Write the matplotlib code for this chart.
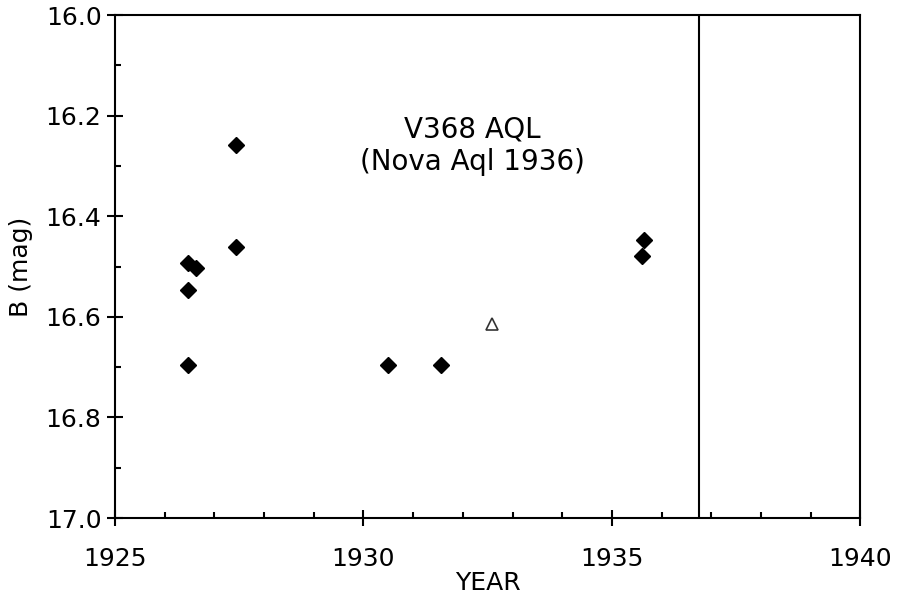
import matplotlib
matplotlib.use('Agg')
import matplotlib.pyplot as plt
from matplotlib.ticker import MultipleLocator

# Photographic B magnitudes (filled diamonds)
years = [1926.47, 1926.63, 1926.47, 1926.47, 1927.44, 1927.44,
         1930.50, 1931.56, 1935.65, 1935.61]
bmag = [16.493, 16.503, 16.547, 16.696, 16.258, 16.461,
        16.696, 16.696, 16.447, 16.479]

# Single open-triangle point
tri_year = [1932.59]
tri_mag = [16.614]

# Outburst date marker
nova_year = 1936.75

plt.rcParams['font.family'] = 'DejaVu Sans'

fig, ax = plt.subplots(figsize=(8.99, 6.01), dpi=100)
fig.subplots_adjust(left=0.128, right=0.957, top=0.975, bottom=0.138)

ax.plot(years, bmag, linestyle='none', marker='D', markersize=8.5,
        color='black')
ax.plot(tri_year, tri_mag, linestyle='none', marker='^', markersize=9,
        markerfacecolor='white', markeredgecolor='#333333', markeredgewidth=1.2)
ax.axvline(nova_year, color='black', linewidth=1.5)

ax.set_xlim(1925, 1940)
ax.set_ylim(17.0, 16.0)

ax.xaxis.set_major_locator(MultipleLocator(5))
ax.xaxis.set_minor_locator(MultipleLocator(1))
ax.yaxis.set_major_locator(MultipleLocator(0.2))
ax.yaxis.set_minor_locator(MultipleLocator(0.1))
ax.yaxis.set_major_formatter(plt.FormatStrFormatter('%.1f'))

ax.tick_params(which='major', direction='inout', length=11.5, width=1.5,
               labelsize=18, top=False, right=False)
ax.tick_params(axis='x', which='major', pad=15)
ax.tick_params(axis='y', which='major', pad=4)
ax.tick_params(which='minor', direction='in', length=4.5, width=1.5,
               top=False, right=False)

for s in ax.spines.values():
    s.set_linewidth(1.5)

ax.set_xlabel('YEAR', fontsize=18, labelpad=0)
ax.set_ylabel('B (mag)', fontsize=18, labelpad=9)

ax.text(0.479, 0.740, 'V368 AQL\n(Nova Aql 1936)', transform=ax.transAxes,
        ha='center', va='center', fontsize=20, linespacing=1.2)

plt.savefig('out.png', dpi=100)
